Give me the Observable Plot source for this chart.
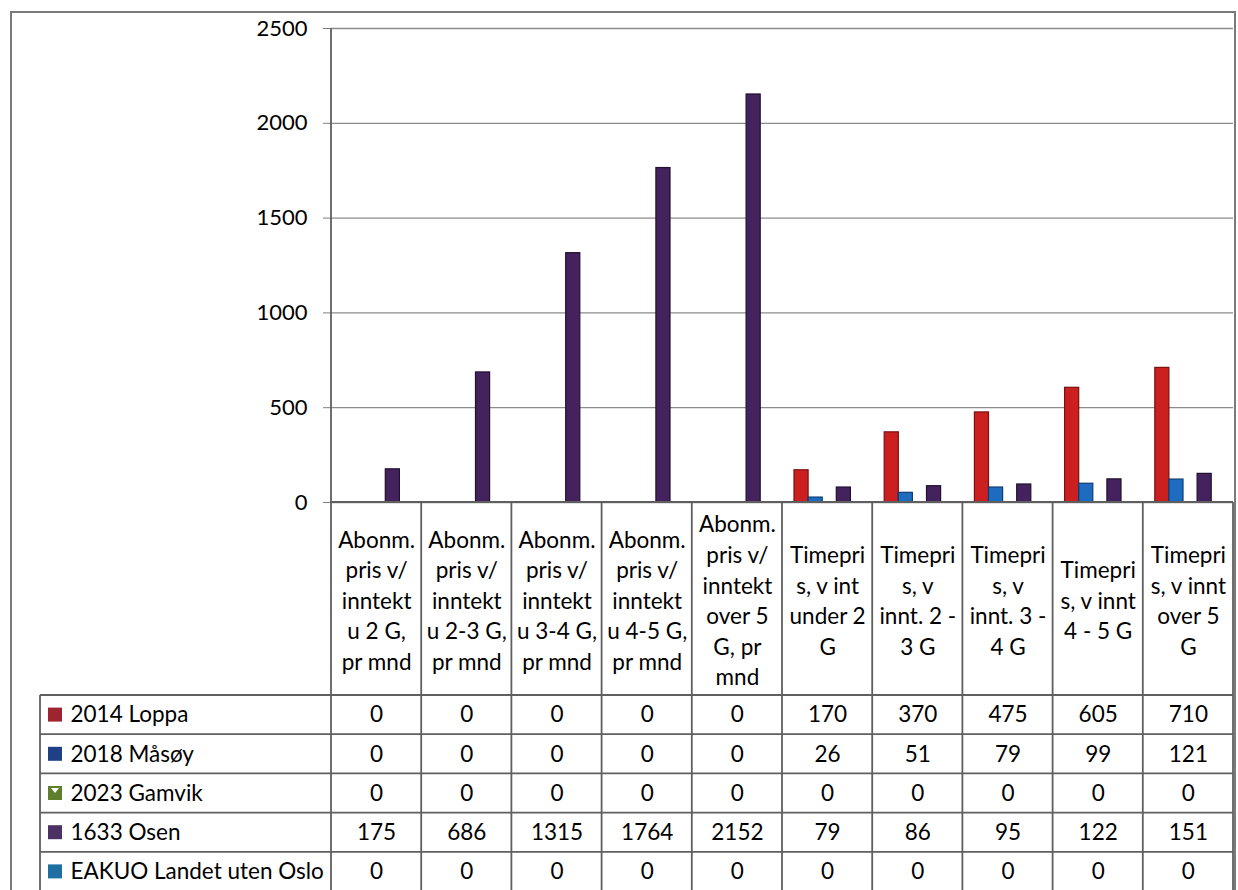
<!DOCTYPE html>
<html><head><meta charset="utf-8">
<script src="https://cdn.jsdelivr.net/npm/d3@7"></script>
<script src="https://cdn.jsdelivr.net/npm/@observablehq/plot@0.6"></script>
<style>body{margin:0;background:#fff} svg{display:block}</style>
</head><body><div id="chart"></div>
<script>
const categories = [
  "Abonm.\npris v/\ninntekt\nu 2 G,\npr mnd",
  "Abonm.\npris v/\ninntekt\nu 2-3 G,\npr mnd",
  "Abonm.\npris v/\ninntekt\nu 3-4 G,\npr mnd",
  "Abonm.\npris v/\ninntekt\nu 4-5 G,\npr mnd",
  "Abonm.\npris v/\ninntekt\nover 5\nG, pr\nmnd",
  "Timepri\ns, v int\nunder 2\nG",
  "Timepri\ns, v\ninnt. 2 -\n3 G",
  "Timepri\ns, v\ninnt. 3 -\n4 G",
  "Timepri\ns, v innt\n4 - 5 G",
  "Timepri\ns, v innt\nover 5\nG"
];
const seriesNames = ["2014 Loppa", "2018 Måsøy", "2023 Gamvik", "1633 Osen", "EAKUO Landet uten Oslo"];
const loppa  = [0, 0, 0, 0, 0, 170, 370, 475, 605, 710];
const masoy  = [0, 0, 0, 0, 0, 26, 51, 79, 99, 121];
const gamvik = [0, 0, 0, 0, 0, 0, 0, 0, 0, 0];
const osen   = [175, 686, 1315, 1764, 2152, 79, 86, 95, 122, 151];
const eakuo  = [0, 0, 0, 0, 0, 0, 0, 0, 0, 0];
const yTicks = [0, 500, 1000, 1500, 2000, 2500];

const seriesValues = [loppa, masoy, gamvik, osen, eakuo];
const barFill   = ["#CC1F1F", "#1D6CC0", "#76923C", "#43225E", "#2B7CB5"];
const barStroke = ["#7a1010", "#0e3d70", "#4a5e22", "#22102f", "#164a70"];
const swatch    = ["#9E2530", "#1F3F87", "#5E7F2C", "#4C3263", "#1F6FA3"];

const W = 1238, H = 890;
const M = {l: 331, r: 5, t: 28, b: 388};
const bw = (W - M.l - M.r) / categories.length;
const slot = 14.1, off = 12;
const headerH = 193, rowH = 39.2;
const FONT = "Lato, 'Open Sans', sans-serif";
const FS = 22.5;

const marks = [
  Plot.gridY({ticks: yTicks, stroke: "#8c8c8c", strokeOpacity: 1, strokeWidth: 1.3}),
  Plot.axisY({ticks: yTicks, tickSize: 8, tickPadding: 16, fontSize: 22, label: null,
    stroke: "#7f7f7f", tickFormat: d => String(d)})
];
seriesValues.forEach((vals, i) => {
  const rows = categories.map((c, j) => ({c, v: vals[j]})).filter(d => d.v > 0);
  marks.push(Plot.barY(rows, {
    x: "c", y: "v", fill: barFill[i], stroke: barStroke[i], strokeWidth: 1.2,
    insetLeft: off + i * slot, insetRight: bw - off - (i + 1) * slot
  }));
});
// category header labels
marks.push(Plot.text(categories, {x: d => d, y: 0, dy: headerH / 2, text: d => d,
  lineHeight: 1.36, lineAnchor: "middle", fontSize: FS}));
// table values and row labels
seriesValues.forEach((vals, i) => {
  const rows = categories.map((c, j) => ({c, v: vals[j]}));
  const dy = headerH + rowH * (i + 0.5);
  marks.push(Plot.text(rows, {x: "c", y: 0, dy, text: d => String(d.v), fontSize: FS, lineAnchor: "middle"}));
  marks.push(Plot.text([seriesNames[i]], {frameAnchor: "bottom-left", dx: 70 - M.l, dy,
    textAnchor: "start", lineAnchor: "middle", text: d => d, fontSize: FS}));
});

const chart = Plot.plot({
  width: W, height: H,
  marginLeft: M.l, marginRight: M.r, marginTop: M.t, marginBottom: M.b,
  style: {fontFamily: FONT, fontSize: "21px", color: "#000", background: "#fff", overflow: "visible"},
  x: {domain: categories, padding: 0, round: false, axis: null},
  y: {domain: [0, 2500], axis: null},
  marks
});
document.getElementById("chart").appendChild(chart);

// table grid and frame drawn with the plot's own scales
const svg = d3.select(chart);
const xs = chart.scale("x"), ys = chart.scale("y");
const y0 = ys.apply(0), yTop = ys.apply(2500);
const xL = xs.apply(categories[0]);
const xR = xs.apply(categories[categories.length - 1]) + xs.bandwidth;
const g = svg.append("g").attr("stroke", "#5f5f5f").attr("stroke-width", 1.8).attr("fill", "none");
// outer chart border
g.append("rect").attr("x", 11).attr("y", 12).attr("width", 1224).attr("height", H + 20)
  .attr("stroke", "#7a7a7a").attr("stroke-width", 2);
// axis line
g.append("line").attr("x1", xL).attr("x2", xL).attr("y1", yTop).attr("y2", H);
// zero line
g.append("line").attr("x1", xL).attr("x2", xR).attr("y1", y0).attr("y2", y0);
// column boundaries
categories.forEach((c, j) => {
  const x = xs.apply(c) + xs.bandwidth;
  g.append("line").attr("x1", x).attr("x2", x).attr("y1", y0).attr("y2", H);
});
// row lines
const legendLeft = 40;
for (let k = 0; k <= seriesNames.length; k++) {
  const y = y0 + headerH + k * rowH;
  g.append("line").attr("x1", legendLeft).attr("x2", xR).attr("y1", y).attr("y2", y);
}
g.append("line").attr("x1", legendLeft).attr("x2", legendLeft).attr("y1", y0 + headerH).attr("y2", H);
// legend swatches
seriesNames.forEach((s, i) => {
  const cy = y0 + headerH + rowH * (i + 0.5);
  svg.append("rect").attr("x", 48).attr("y", cy - 7).attr("width", 14).attr("height", 14).attr("fill", swatch[i]);
  if (i === 2) {
    svg.append("path").attr("d", `M${51},${cy - 5}L${59},${cy - 5}L${55},${cy}Z`).attr("fill", "#fff");
  }
});
</script>
</body></html>
